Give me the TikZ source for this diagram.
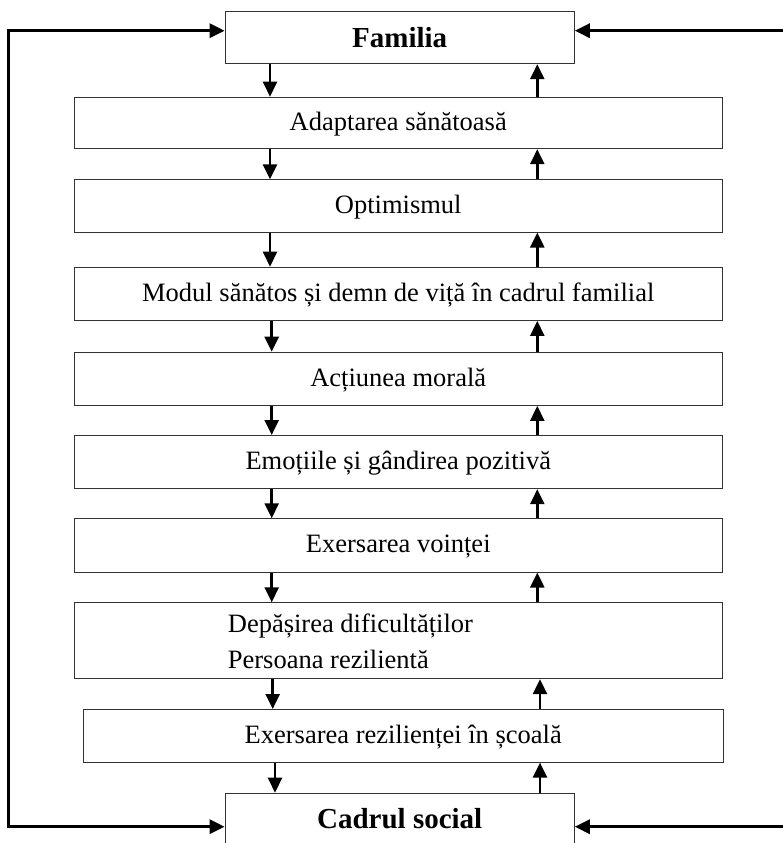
\documentclass[tikz,border=0pt]{standalone}
\usepackage{fontspec}
\setmainfont{Liberation Serif}
\usetikzlibrary{arrows.meta}
\begin{document}
\begin{tikzpicture}[x=1pt,y=-1pt,
  stage/.style={draw=black!80, line width=0.9pt, rectangle, inner sep=0pt,
    anchor=north, minimum width=648.5pt, text height=17.5pt, text depth=2.6pt,
    font=\fontsize{26.5pt}{32pt}\selectfont},
  pole/.style={draw=black!80, line width=0.9pt, rectangle, anchor=north,
    minimum width=349.3pt, inner xsep=0pt,
    font=\fontsize{29pt}{34pt}\selectfont\bfseries},
  linetext/.style={inner sep=0pt, anchor=base west,
    font=\fontsize{26.5pt}{32pt}\selectfont},
  flow/.style={line width=2.5pt, -{Triangle[width=14pt,length=15pt]}},
  outer/.style={line width=3.2pt, line join=miter}
]
\useasboundingbox (0,0) rectangle (783,843);

% the two poles
\node[pole, minimum height=52.6pt, inner ysep=0pt, text height=19.5pt, text depth=0pt]
  (fam) at (399.7,10.7) {Familia};
\node[pole, inner ysep=15.3pt, text height=19.7pt, text depth=45pt]
  (soc) at (399.7,792.7) {Cadrul social};

% intermediate stages
\node[stage, minimum height=51.6pt] (s1) at (398.25,96.7)  {Adaptarea sănătoasă};
\node[stage, minimum height=52.4pt] (s2) at (398.25,179.3) {Optimismul};
\node[stage, minimum height=53.3pt] (s3) at (398.25,266.7) {Modul sănătos și demn de viță în cadrul familial};
\node[stage, minimum height=53.3pt] (s4) at (398.25,351.7) {Acțiunea morală};
\node[stage, minimum height=53.3pt] (s5) at (398.25,435)   {Emoțiile și gândirea pozitivă};
\node[stage, minimum height=53.4pt] (s6) at (398.25,518.3) {Exersarea voinței};
\node[stage, minimum height=76pt]   (s7) at (398.25,602.3) {};
\node[linetext] (s7a) at (227.7,632.7) {Depășirea dificultăților};
\node[linetext] (s7b) at (227.7,668)   {Persoana rezilientă};
\node[stage, minimum height=52.7pt, minimum width=639.7pt] (s8) at (403.2,709) {Exersarea rezilienței în școală};

% downward flow
\draw[flow] (270,0 |- fam.south) -- (270,0 |- s1.north);
\draw[flow] (270,0 |- s1.south) -- (270,0 |- s2.north);
\draw[flow] (270,0 |- s2.south) -- (270,0 |- s3.north);
\draw[flow] (271.7,0 |- s3.south) -- (271.7,0 |- s4.north);
\draw[flow] (271.7,0 |- s4.south) -- (271.7,0 |- s5.north);
\draw[flow] (271.7,0 |- s5.south) -- (271.7,0 |- s6.north);
\draw[flow] (271.7,0 |- s6.south) -- (271.7,0 |- s7.north);
\draw[flow] (272.7,0 |- s7.south) -- (272.7,0 |- s8.north);
\draw[flow] (275,0 |- s8.south) -- (275,0 |- soc.north);

% upward flow
\draw[flow] (537.3,0 |- s1.north) -- (537.3,0 |- fam.south);
\draw[flow] (537.3,0 |- s2.north) -- (537.3,0 |- s1.south);
\draw[flow] (537.3,0 |- s3.north) -- (537.3,0 |- s2.south);
\draw[flow] (537.3,0 |- s4.north) -- (537.3,0 |- s3.south);
\draw[flow] (537.3,0 |- s5.north) -- (537.3,0 |- s4.south);
\draw[flow] (537.3,0 |- s6.north) -- (537.3,0 |- s5.south);
\draw[flow] (537.3,0 |- s7.north) -- (537.3,0 |- s6.south);
\draw[flow] (540,0 |- s8.north) -- (540,0 |- s7.south);
\draw[flow] (540,0 |- soc.north) -- (540,0 |- s8.south);

% outer feedback loop
\coordinate (lt) at (8.3,30.7);
\coordinate (lb) at (8.3,826.7);
\coordinate (rt) at (783,30.7);
\coordinate (rb) at (783,826.7);
\draw[outer, {Triangle[width=14pt,length=15pt]}-{Triangle[width=14pt,length=15pt]}]
  (fam.west |- lt) -- (lt) -- (lb) -- (soc.west |- lb);
\draw[outer, -{Triangle[width=14pt,length=15pt]}] (rt) -- (fam.east |- rt);
\draw[outer, -{Triangle[width=14pt,length=15pt]}] (rb) -- (soc.east |- rb);
\end{tikzpicture}
\end{document}
